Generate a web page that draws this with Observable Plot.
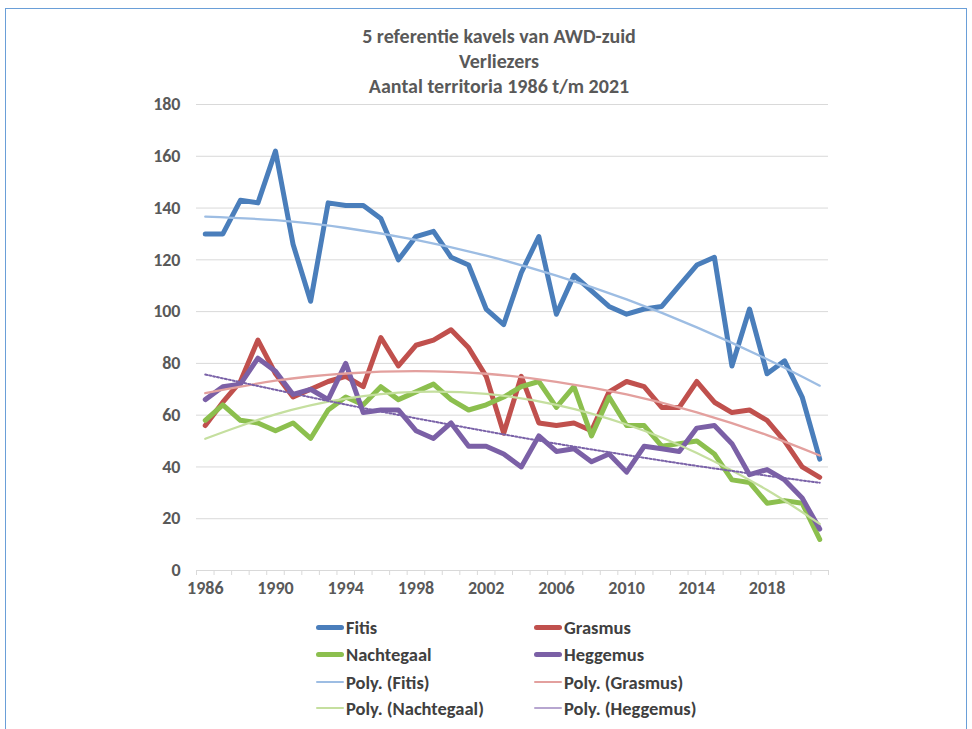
<!DOCTYPE html>
<html>
<head>
<meta charset="utf-8">
<script src="https://cdn.jsdelivr.net/npm/d3@7"></script>
<script src="https://cdn.jsdelivr.net/npm/@observablehq/plot@0.6"></script>
<style>
  html, body { margin: 0; padding: 0; background: #fff; }
  #wrap { position: relative; width: 972px; height: 729px; overflow: hidden; font-family: Carlito, Lato, "Open Sans", sans-serif; }
  #frame { position: absolute; left: 5px; top: 8px; width: 962px; height: 740px; border: 1.5px solid #6a9fd8; box-sizing: border-box; }
  #title { position: absolute; left: 249px; top: 24px; width: 500px; text-align: center; font-weight: bold; font-size: 20px; line-height: 25px; color: #595959; }
  #chart { position: absolute; left: 0; top: 0; }
  #chart svg text { font-weight: bold; }
  .leg { position: absolute; display: flex; align-items: center; font-weight: bold; font-size: 18.5px; color: #404040; white-space: nowrap; height: 22px; }
  .sw { display: inline-block; width: 28px; margin-right: 2px; border-radius: 3px; }
</style>
</head>
<body>
<div id="wrap">
  <div id="frame"></div>
  <div id="title">5 referentie kavels van AWD-zuid<br>Verliezers<br>Aantal territoria 1986 t/m 2021</div>
  <div id="chart"></div>
  <div id="legend"></div>
</div>
<script>
const years = [1986,1987,1988,1989,1990,1991,1992,1993,1994,1995,1996,1997,1998,1999,2000,2001,2002,2003,2004,2005,2006,2007,2008,2009,2010,2011,2012,2013,2014,2015,2016,2017,2018,2019,2020,2021];
const fitis = [130,130,143,142,162,126,104,142,141,141,136,120,129,131,121,118,101,95,115,129,99,114,108,102,99,101,102,110,118,121,79,101,76,81,67,43];
const grasmus = [56,65,73,89,76,67,70,73,75,71,90,79,87,89,93,86,75,53,75,57,56,57,54,69,73,71,63,63,73,65,61,62,58,50,40,36];
const nachtegaal = [58,64,58,57,54,57,51,62,67,64,71,66,69,72,66,62,64,67,71,73,63,71,52,67,56,56,48,49,50,45,35,34,26,27,26,12];
const heggemus = [66,71,72,82,77,68,70,66,80,61,62,62,54,51,57,48,48,45,40,52,46,47,42,45,38,48,47,46,55,56,49,37,39,35,28,16];

// polynomial trend lines, values at these years
const trendYears = [1986,1990,1994,1998,2002,2006,2010,2014,2018,2021];
const fitisTrend = [136.7,135.3,132.3,127.7,121.6,113.9,104.7,93.9,81.6,71.4];
const grasmusTrend = [68.5,73.3,76.1,77.0,76.0,72.9,68.0,61.1,52.3,44.4];
const nachtegaalTrend = [50.9,60.3,66.4,69.0,68.2,64.0,56.4,45.4,31.1,18.0];
const heggemusTrend = [75.7,69.8,64.1,58.8,53.8,49.0,44.6,40.4,36.6,33.9];

const xTickLabels = [1986,1990,1994,1998,2002,2006,2010,2014,2018];
const yTicks = [0,20,40,60,80,100,120,140,160,180];

const seriesNames = ["Fitis","Grasmus","Nachtegaal","Heggemus"];
const seriesValues = [fitis, grasmus, nachtegaal, heggemus];
const trendValues = [fitisTrend, grasmusTrend, nachtegaalTrend, heggemusTrend];
const colors = ["#4a7ebb","#c0504d","#8cbf4e","#7b60a6"];
const trendColors = ["#9dbde3","#e3a09e","#c5df9f","#7a62a8"];
const legendTrendColors = ["#9dbde3","#e3a09e","#c5df9f","#b7a6d0"];

const rows = [];
seriesNames.forEach((name, i) => years.forEach((yr, j) => rows.push({series: name, year: yr, value: seriesValues[i][j]})));
const trows = [];
seriesNames.forEach((name, i) => trendYears.forEach((yr, j) => trows.push({series: name, year: yr, value: trendValues[i][j]})));

const boundaries = d3.range(1985.5, 2022, 1);

const marks = [
  Plot.gridY(yTicks, {stroke: "#d9d9d9", strokeOpacity: 1, strokeWidth: 1}),
  Plot.axisX({ticks: boundaries, tickSize: 5, tickFormat: () => "", stroke: "#d9d9d9", strokeOpacity: 1, label: null}),
  Plot.axisX({ticks: xTickLabels, tickSize: 0, tickPadding: 11, tickFormat: d => String(d), fontSize: 18, label: null}),
  Plot.axisY({ticks: yTicks, tickSize: 0, tickPadding: 16, fontSize: 18, label: null})
];
seriesNames.forEach((name, i) => {
  marks.push(Plot.line(rows.filter(d => d.series === name), {x: "year", y: "value", stroke: colors[i], strokeWidth: 5, strokeLinejoin: "round", strokeLinecap: "round"}));
});
seriesNames.forEach((name, i) => {
  marks.push(Plot.line(trows.filter(d => d.series === name), {x: "year", y: "value", curve: "natural", stroke: trendColors[i], strokeWidth: i === 3 ? 2 : 2.3, strokeDasharray: i === 3 ? "2,2" : null}));
});

const chart = Plot.plot({
  width: 972,
  height: 729,
  marginLeft: 196,
  marginRight: 144,
  marginTop: 104,
  marginBottom: 159,
  x: {domain: [1985.5, 2021.5]},
  y: {domain: [0, 180]},
  style: {background: "transparent", color: "#595959", fontFamily: "Carlito, Lato, 'Open Sans', sans-serif", fontSize: "18px", overflow: "visible"},
  marks
});
document.getElementById("chart").appendChild(chart);

// legend
const legendItems = [
  {label: "Fitis", color: colors[0], w: 5, col: 0, row: 0},
  {label: "Grasmus", color: colors[1], w: 5, col: 1, row: 0},
  {label: "Nachtegaal", color: colors[2], w: 5, col: 0, row: 1},
  {label: "Heggemus", color: colors[3], w: 5, col: 1, row: 1},
  {label: "Poly. (Fitis)", color: legendTrendColors[0], w: 2.5, col: 0, row: 2},
  {label: "Poly. (Grasmus)", color: legendTrendColors[1], w: 2.5, col: 1, row: 2},
  {label: "Poly. (Nachtegaal)", color: legendTrendColors[2], w: 2.5, col: 0, row: 3},
  {label: "Poly. (Heggemus)", color: legendTrendColors[3], w: 2.5, col: 1, row: 3}
];
const colX = [316, 534];
const rowY = [627, 654, 682, 708];
const leg = document.getElementById("legend");
legendItems.forEach(it => {
  const d = document.createElement("div");
  d.className = "leg";
  d.style.left = colX[it.col] + "px";
  d.style.top = (rowY[it.row] - 11) + "px";
  const s = document.createElement("span");
  s.className = "sw";
  s.style.height = it.w + "px";
  s.style.background = it.color;
  d.appendChild(s);
  d.appendChild(document.createTextNode(it.label));
  leg.appendChild(d);
});
</script>
</body>
</html>
